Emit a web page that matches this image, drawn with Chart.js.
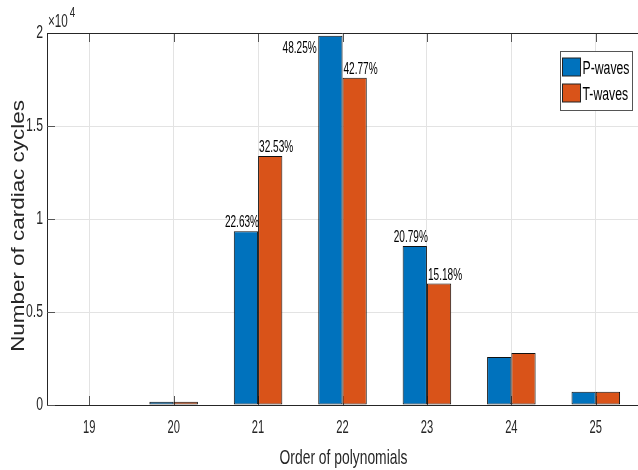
<!DOCTYPE html>
<html>
<head>
<meta charset="utf-8">
<script src="https://cdn.jsdelivr.net/npm/chart.js@4.4.1/dist/chart.umd.min.js"></script>
<style>
  html, body { margin: 0; padding: 0; background: #fff; }
  canvas { display: block; }
</style>
</head>
<body>
<canvas id="c" width="638" height="470"></canvas>
<script>
// Polynomial order vs. number of cardiac cycles fitted, per wave type
const orders = ['19', '20', '21', '22', '23', '24', '25'];
const pWaves = [30, 170, 9340, 19850, 8550, 2580, 710];
const tWaves = [30, 170, 13390, 17600, 6530, 2800, 710];
const pShares = ['', '', '22.63%', '48.25%', '20.79%', '', ''];
const tShares = ['', '', '32.53%', '42.77%', '15.18%', '', ''];
const yTicks = [0, 5000, 10000, 15000, 20000];
const exponent = 4;
const xTitle = 'Order of polynomials';
const yTitle = 'Number of cardiac cycles';

const FONT = '"Liberation Sans", Arial, sans-serif';
const AXIS = '#262626';
const GRID = '#e3e3e3';
const BLUE = '#0072BD';
const ORANGE = '#D95319';
const SQUEEZE = 0.66;   // horizontal compression of the tall, narrow lettering

// draw text with a horizontal squeeze; align/baseline as in canvas
function narrowText(ctx, str, x, y, size, align, baseline, sx = SQUEEZE, color = AXIS) {
  ctx.save();
  ctx.translate(x, y);
  ctx.scale(sx, 1);
  ctx.font = size + 'px ' + FONT;
  ctx.fillStyle = color;
  ctx.textAlign = align;
  ctx.textBaseline = baseline;
  ctx.fillText(str, 0, 0);
  ctx.restore();
}

const overlay = {
  id: 'overlay',
  beforeDatasetsDraw(chart) {
    // inward tick marks
    const { ctx, chartArea: a, scales: { x, y } } = chart;
    ctx.save();
    ctx.strokeStyle = '#555';
    ctx.lineWidth = 1;
    ctx.beginPath();
    orders.forEach((_, i) => {
      const px = Math.round(x.getPixelForValue(i)) + 0.5;
      ctx.moveTo(px, a.top); ctx.lineTo(px, a.top + 9);
      ctx.moveTo(px, a.bottom); ctx.lineTo(px, a.bottom - 9);
    });
    yTicks.forEach(v => {
      const py = Math.round(y.getPixelForValue(v)) + 0.5;
      ctx.moveTo(a.left, py); ctx.lineTo(a.left + 8, py);
    });
    ctx.stroke();
    ctx.restore();
  },
  afterDatasetsDraw(chart) {
    // share labels above the bars
    const { ctx, chartArea: a } = chart;
    const size = 16, capH = 12;
    const pMeta = chart.getDatasetMeta(0).data;
    const tMeta = chart.getDatasetMeta(1).data;
    pShares.forEach((s, i) => {
      if (!s) return;
      const b = pMeta[i];
      const left = b.x - b.width / 2, right = b.x + b.width / 2;
      if (b.y - capH - 4 < a.top) {
        narrowText(ctx, s, left - 1.5, b.y + 5 + capH, size, 'right', 'alphabetic', 0.63, '#000');
      } else {
        narrowText(ctx, s, right + 1, b.y - 4, size, 'right', 'alphabetic', 0.63, '#000');
      }
    });
    tShares.forEach((s, i) => {
      if (!s) return;
      const b = tMeta[i];
      narrowText(ctx, s, b.x - b.width / 2 + 1, b.y - 4, size, 'left', 'alphabetic', 0.63, '#000');
    });
  },
  afterDraw(chart) {
    const { ctx, chartArea: a, scales: { x, y } } = chart;
    ctx.save();
    // top frame line
    ctx.strokeStyle = AXIS;
    ctx.lineWidth = 1;
    ctx.beginPath();
    ctx.moveTo(a.left, a.top + 0.5); ctx.lineTo(a.right, a.top + 0.5);
    ctx.stroke();
    ctx.restore();

    // tick labels
    orders.forEach((lab, i) => {
      narrowText(ctx, lab, x.getPixelForValue(i), a.bottom + 28, 18, 'center', 'alphabetic', 0.62);
    });
    yTicks.forEach(v => {
      const lab = String(v / Math.pow(10, exponent));
      narrowText(ctx, lab, a.left - 4, y.getPixelForValue(v), 18, 'right', 'middle', 0.68);
    });

    // axis titles
    narrowText(ctx, xTitle, (a.left + a.right) / 2 + 1, a.bottom + 59, 21, 'center', 'alphabetic', 0.66);
    ctx.save();
    ctx.translate(24, (a.top + a.bottom) / 2 + 7);
    ctx.rotate(-Math.PI / 2);
    ctx.scale(1.18, 1);
    ctx.font = '19px ' + FONT;
    ctx.fillStyle = AXIS;
    ctx.textAlign = 'center';
    ctx.textBaseline = 'alphabetic';
    ctx.fillText(yTitle, 0, 0);
    ctx.restore();

    // axis exponent
    ctx.save();
    ctx.font = '18px ' + FONT;
    const w = ctx.measureText('\u00d710').width * 0.65;
    ctx.restore();
    narrowText(ctx, '\u00d710', a.left + 1, a.top - 6, 18, 'left', 'alphabetic', 0.65);
    narrowText(ctx, String(exponent), a.left + 3 + w, a.top - 16, 14, 'left', 'alphabetic', 0.7);

    // legend
    ctx.save();
    const bx = chart.width - 77.5, by = a.top + 18.5, bw = 72, bh = 59;
    ctx.fillStyle = '#fff';
    ctx.fillRect(bx, by, bw, bh);
    ctx.strokeStyle = '#555';
    ctx.lineWidth = 1;
    ctx.strokeRect(bx, by, bw, bh);
    chart.data.datasets.forEach((ds, i) => {
      const sy = by + 6.5 + i * 26;
      ctx.fillStyle = ds.backgroundColor;
      ctx.fillRect(bx + 2, sy, 18, 18);
      ctx.strokeStyle = '#222';
      ctx.strokeRect(bx + 2, sy, 18, 18);
      narrowText(ctx, ds.label, bx + 22, sy + 16, 18, 'left', 'alphabetic', 0.68, '#000');
    });
    ctx.restore();
  }
};

new Chart(document.getElementById('c'), {
  type: 'bar',
  data: {
    labels: orders,
    datasets: [
      { label: 'P-waves', data: pWaves, backgroundColor: BLUE, borderColor: '#111', borderWidth: 1, borderSkipped: false },
      { label: 'T-waves', data: tWaves, backgroundColor: ORANGE, borderColor: '#111', borderWidth: 1, borderSkipped: false }
    ]
  },
  options: {
    responsive: false,
    animation: false,
    devicePixelRatio: 1,
    layout: { padding: { top: 33, right: -2, left: 0, bottom: 0 } },
    datasets: { bar: { categoryPercentage: 0.575, barPercentage: 1.0 } },
    plugins: { legend: { display: false }, tooltip: { enabled: false } },
    scales: {
      x: {
        offset: true,
        grid: { offset: false, color: GRID, drawTicks: false },
        border: { color: AXIS, width: 1 },
        ticks: { display: false },
        afterFit(s) { s.height = 65; }
      },
      y: {
        min: 0, max: 20000,
        afterBuildTicks(s) { s.ticks = yTicks.map(v => ({ value: v })); },
        grid: { color: GRID, drawTicks: false },
        border: { color: AXIS, width: 1 },
        ticks: { display: false },
        afterFit(s) { s.width = 47; }
      }
    }
  },
  plugins: [overlay]
});
</script>
</body>
</html>
